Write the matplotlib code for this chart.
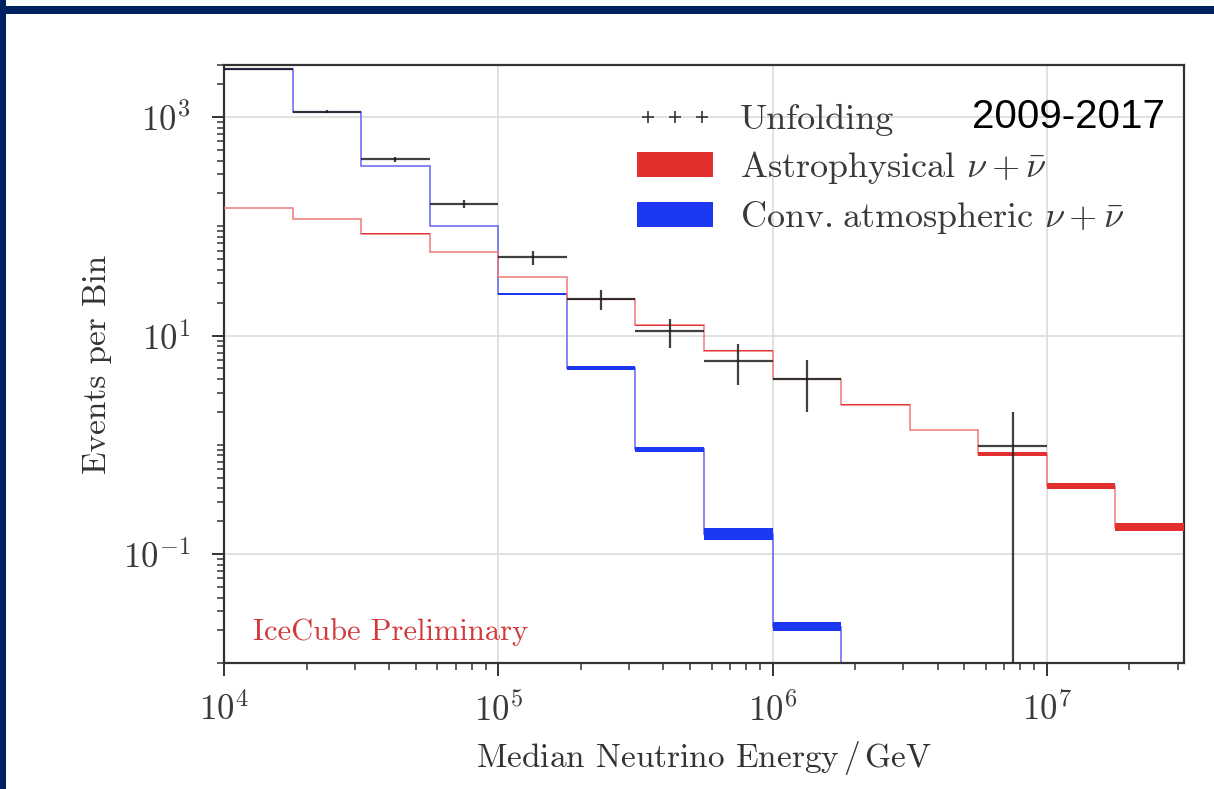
import numpy as np
import matplotlib
matplotlib.use("Agg")
import matplotlib.pyplot as plt
from matplotlib.lines import Line2D
from matplotlib.patches import Patch, Rectangle
from matplotlib.ticker import FixedLocator, LogLocator, LogFormatterSciNotation, NullFormatter

plt.rcParams["font.family"] = "cmr10"
plt.rcParams["mathtext.fontset"] = "cm"
plt.rcParams["axes.formatter.use_mathtext"] = True

# Energy binning: quarter-decade bins from 1e4 to 10^7.5 GeV
log_edges = [4.0, 4.25, 4.5, 4.75, 5.0, 5.25, 5.5, 5.75, 6.0, 6.25, 6.5, 6.75, 7.0, 7.25, 7.5]

# Unfolded event counts and their uncertainties (nan = no entry)
unfold = [2730, 1120, 410, 160, 52, 21.7, 11.0, 5.9, 4.0, np.nan, np.nan, 0.98, np.nan, np.nan]
unfold_err = [52, 33, 20, 13, 7.5, 4.7, 3.3, 2.4, 2.0, np.nan, np.nan, 1.0, np.nan, np.nan]

# Astrophysical component: central value and band
astro = [148, 116, 86, 58.6, 34.3, 21.4, 12.4, 7.3, 4.0, 2.33, 1.37, 0.83, 0.42, 0.177]
astro_lo = [147.6, 115.7, 85.8, 58.4, 34.2, 21.33, 12.36, 7.27, 3.985, 2.32, 1.364, 0.797, 0.395, 0.163]
astro_hi = [148.4, 116.3, 86.2, 58.8, 34.4, 21.47, 12.44, 7.33, 4.015, 2.34, 1.376, 0.865, 0.447, 0.193]

# Conventional atmospheric component: central value and band
conv = [2730, 1110, 355, 100.6, 24.2, 5.1, 0.91, 0.152, 0.0216, 0.003, 4e-4, 6e-5, 8e-6, 1e-6]
conv_lo = [2722, 1107, 354, 100.3, 23.7, 4.89, 0.863, 0.134, 0.0197, 0.0028, 3.7e-4, 5.5e-5, 7e-6, 9e-7]
conv_hi = [2738, 1113, 356, 100.9, 24.7, 5.31, 0.960, 0.172, 0.0238, 0.0032, 4.3e-4, 6.5e-5, 9e-6, 1.1e-6]

edges = 10.0 ** np.array(log_edges)
centers = 10.0 ** ((np.array(log_edges[:-1]) + np.array(log_edges[1:])) / 2)

RED = "#e2302e"
RED_LINE = "#ec7a78"
BLUE = "#1c38f2"
BLUE_LINE = "#6565f0"
NAVY = "#00215f"

fig = plt.figure(figsize=(12.14, 7.89), dpi=100)
fig.patch.set_facecolor("white")

# Slide frame
fig.patches.append(Rectangle((0, 1 - 14 / 789), 1, 8 / 789, transform=fig.transFigure,
                             facecolor=NAVY, edgecolor="none", zorder=0))
fig.patches.append(Rectangle((0, 0), 6 / 1214, 1, transform=fig.transFigure,
                             facecolor=NAVY, edgecolor="none", zorder=0))

ax = fig.add_axes([224 / 1214, 1 - 663.3 / 789, 960 / 1214, (663.3 - 65) / 789])
ax.set_xscale("log")
ax.set_yscale("log")

# Conventional atmospheric
ax.stairs(conv, edges, baseline=None, color=BLUE_LINE, lw=1.1, zorder=2)
ax.stairs(conv_hi, edges, baseline=conv_lo, fill=True, color=BLUE, lw=0, zorder=2.1)

# Astrophysical
ax.stairs(astro, edges, baseline=None, color=RED_LINE, lw=1.1, zorder=3)
ax.stairs(astro_hi, edges, baseline=astro_lo, fill=True, color=RED, lw=0, zorder=3.1)

# Unfolding
u = np.array(unfold, dtype=float)
ue = np.array(unfold_err, dtype=float)
xl = centers - edges[:-1]
xh = edges[1:] - centers
lo_err = np.minimum(ue, u * 0.999)
ax.errorbar(centers, u, xerr=[xl, xh], yerr=[lo_err, ue], fmt="none",
            ecolor="#1e1e1e", elinewidth=1.6, alpha=0.85, zorder=4)

ax.set_xlim(1e4, 10 ** 7.5)
ax.set_ylim(1e-2, 3000)

ax.xaxis.set_major_locator(FixedLocator([1e4, 1e5, 1e6, 1e7]))
ax.xaxis.set_minor_locator(LogLocator(base=10, subs=np.arange(2, 10), numticks=50))
ax.xaxis.set_major_formatter(LogFormatterSciNotation())
ax.xaxis.set_minor_formatter(NullFormatter())
ax.yaxis.set_major_locator(FixedLocator([1e-1, 1e1, 1e3]))
ax.yaxis.set_minor_locator(LogLocator(base=10, subs=np.arange(1, 10), numticks=50))
ax.yaxis.set_major_formatter(LogFormatterSciNotation())
ax.yaxis.set_minor_formatter(NullFormatter())

ax.grid(True, which="major", color="#dcdcdc", lw=1.2, zorder=0)
ax.set_axisbelow(True)
for s in ax.spines.values():
    s.set_linewidth(1.6)
    s.set_color("#333333")
ax.tick_params(which="major", direction="out", length=9, width=1.4, color="#333333",
               labelsize=25, labelcolor="#3a3a3a")
ax.tick_params(which="minor", direction="out", length=5, width=1.1, color="#333333")
ax.tick_params(axis="y", which="major", pad=15)
ax.tick_params(axis="x", which="major", pad=12)

ax.set_xlabel(r"Median Neutrino Energy$\,/\,$GeV", fontsize=24, color="#333333")
ax.set_ylabel("Events per Bin", fontsize=24, color="#333333")
ax.xaxis.set_label_coords(0.5, -0.127)
ax.yaxis.set_label_coords(-0.117, 0.5)

ax.text(0.030, 0.039, "IceCube Preliminary", transform=ax.transAxes, fontsize=22,
        color="#d23a3c", va="baseline", ha="left")

handles = [
    Line2D([], [], marker="+", ls="none", color="#333333", markersize=8, markeredgewidth=1.2),
    Patch(facecolor=RED, edgecolor="none"),
    Patch(facecolor=BLUE, edgecolor="none"),
]
labels = ["Unfolding", r"Astrophysical $\nu+\bar{\nu}$", r"Conv.$\;$atmospheric $\nu+\bar{\nu}$"]
leg = ax.legend(handles, labels, loc="upper left", bbox_to_anchor=(0.43, 0.935),
                frameon=False, fontsize=26, numpoints=3, handlelength=2.1,
                handletextpad=0.75, labelspacing=0.36, borderpad=0, borderaxespad=0)
for t in leg.get_texts():
    t.set_color("#3a3a3a")

fig.text(1165 / 1214, 1 - 117 / 789, "2009-2017", fontsize=29, color="black",
         family="Liberation Sans", ha="right", va="center")

fig.savefig("out.png", dpi=100, facecolor="white")
